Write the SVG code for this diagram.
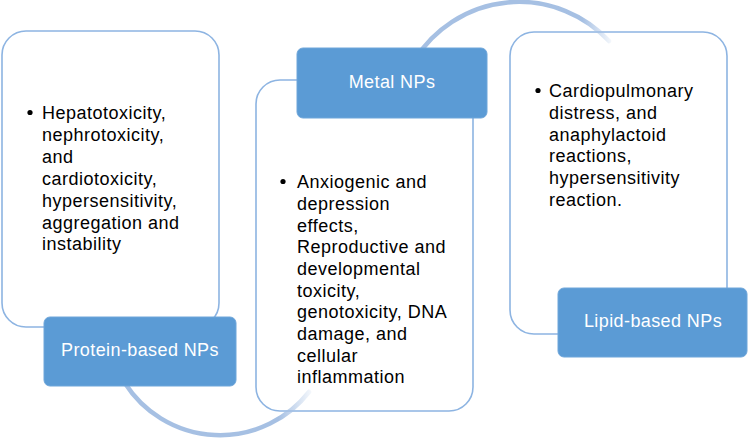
<svg xmlns="http://www.w3.org/2000/svg" width="749" height="440" viewBox="0 0 749 440">
<style>
.panel{fill:#ffffff;stroke:#8db4e2;stroke-width:1.6}
.label{fill:#5b9bd5;stroke:#6fa6da;stroke-width:1}
.body{font-family:"Liberation Sans",Arial,sans-serif;font-size:18px;letter-spacing:0.5px;fill:#000000}
.ltxt{font-family:"Liberation Sans",Arial,sans-serif;font-size:18px;letter-spacing:0.4px;fill:#ffffff;text-anchor:middle}
.bullet{fill:#000000}
.arc{fill:none;stroke-width:4.5;stroke-linecap:round}
</style>
<defs>
<linearGradient id="fadeTop" gradientUnits="userSpaceOnUse" x1="415" y1="0" x2="612" y2="0">
<stop offset="0" stop-color="#a6c0e3"/>
<stop offset="0.85" stop-color="#a6c0e3"/>
<stop offset="1" stop-color="#a6c0e3" stop-opacity="0.1"/>
</linearGradient>
<linearGradient id="fadeBot" gradientUnits="userSpaceOnUse" x1="125" y1="0" x2="312" y2="0">
<stop offset="0" stop-color="#a6c0e3"/>
<stop offset="0.82" stop-color="#a6c0e3"/>
<stop offset="1" stop-color="#a6c0e3" stop-opacity="0.1"/>
</linearGradient>
</defs>
<rect width="749" height="440" fill="#ffffff"/>

<g id="protein-panel">
<rect class="panel" x="2" y="31" width="217" height="296" rx="24"/>
<circle class="bullet" cx="30" cy="112.5" r="2.6"/>
<text class="body"><tspan x="42" y="119">Hepatotoxicity,</tspan><tspan x="42" y="141">nephrotoxicity,</tspan><tspan x="42" y="163">and</tspan><tspan x="42" y="185">cardiotoxicity,</tspan><tspan x="42" y="207">hypersensitivity,</tspan><tspan x="42" y="228.5">aggregation and</tspan><tspan x="42" y="250">instability</tspan></text>
</g>

<g id="metal-panel">
<rect class="panel" x="256" y="80" width="217" height="331" rx="24"/>
<circle class="bullet" cx="283" cy="181.5" r="2.6"/>
<text class="body"><tspan x="297" y="188">Anxiogenic and</tspan><tspan x="297" y="210">depression</tspan><tspan x="297" y="231.5">effects,</tspan><tspan x="297" y="253">Reproductive and</tspan><tspan x="297" y="275">developmental</tspan><tspan x="297" y="297">toxicity,</tspan><tspan x="297" y="318">genotoxicity, DNA</tspan><tspan x="297" y="340">damage, and</tspan><tspan x="297" y="362">cellular</tspan><tspan x="297" y="383">inflammation</tspan></text>
</g>

<g id="lipid-panel">
<rect class="panel" x="510" y="32" width="217" height="302" rx="24"/>
<circle class="bullet" cx="538" cy="90.5" r="2.6"/>
<text class="body"><tspan x="549" y="97">Cardiopulmonary</tspan><tspan x="549" y="119">distress, and</tspan><tspan x="549" y="140.5">anaphylactoid</tspan><tspan x="549" y="162">reactions,</tspan><tspan x="549" y="184">hypersensitivity</tspan><tspan x="549" y="205.5">reaction.</tspan></text>
</g>

<g id="connectors">
<path class="arc" stroke="url(#fadeTop)" d="M415,59.3 A123,123 0 0,1 609,41"/>
<path class="arc" stroke="url(#fadeBot)" d="M125,383.2 A113,113 0 0,0 309,392"/>
</g>

<g id="protein-label">
<rect class="label" x="44" y="317" width="192" height="69" rx="6"/>
<text class="ltxt" x="140" y="356">Protein-based NPs</text>
</g>

<g id="metal-label">
<rect class="label" x="297" y="48" width="190" height="70" rx="6"/>
<text class="ltxt" x="392" y="88">Metal NPs</text>
</g>

<g id="lipid-label">
<rect class="label" x="558" y="288" width="189" height="69" rx="6"/>
<text class="ltxt" x="653" y="327">Lipid-based NPs</text>
</g>
</svg>
